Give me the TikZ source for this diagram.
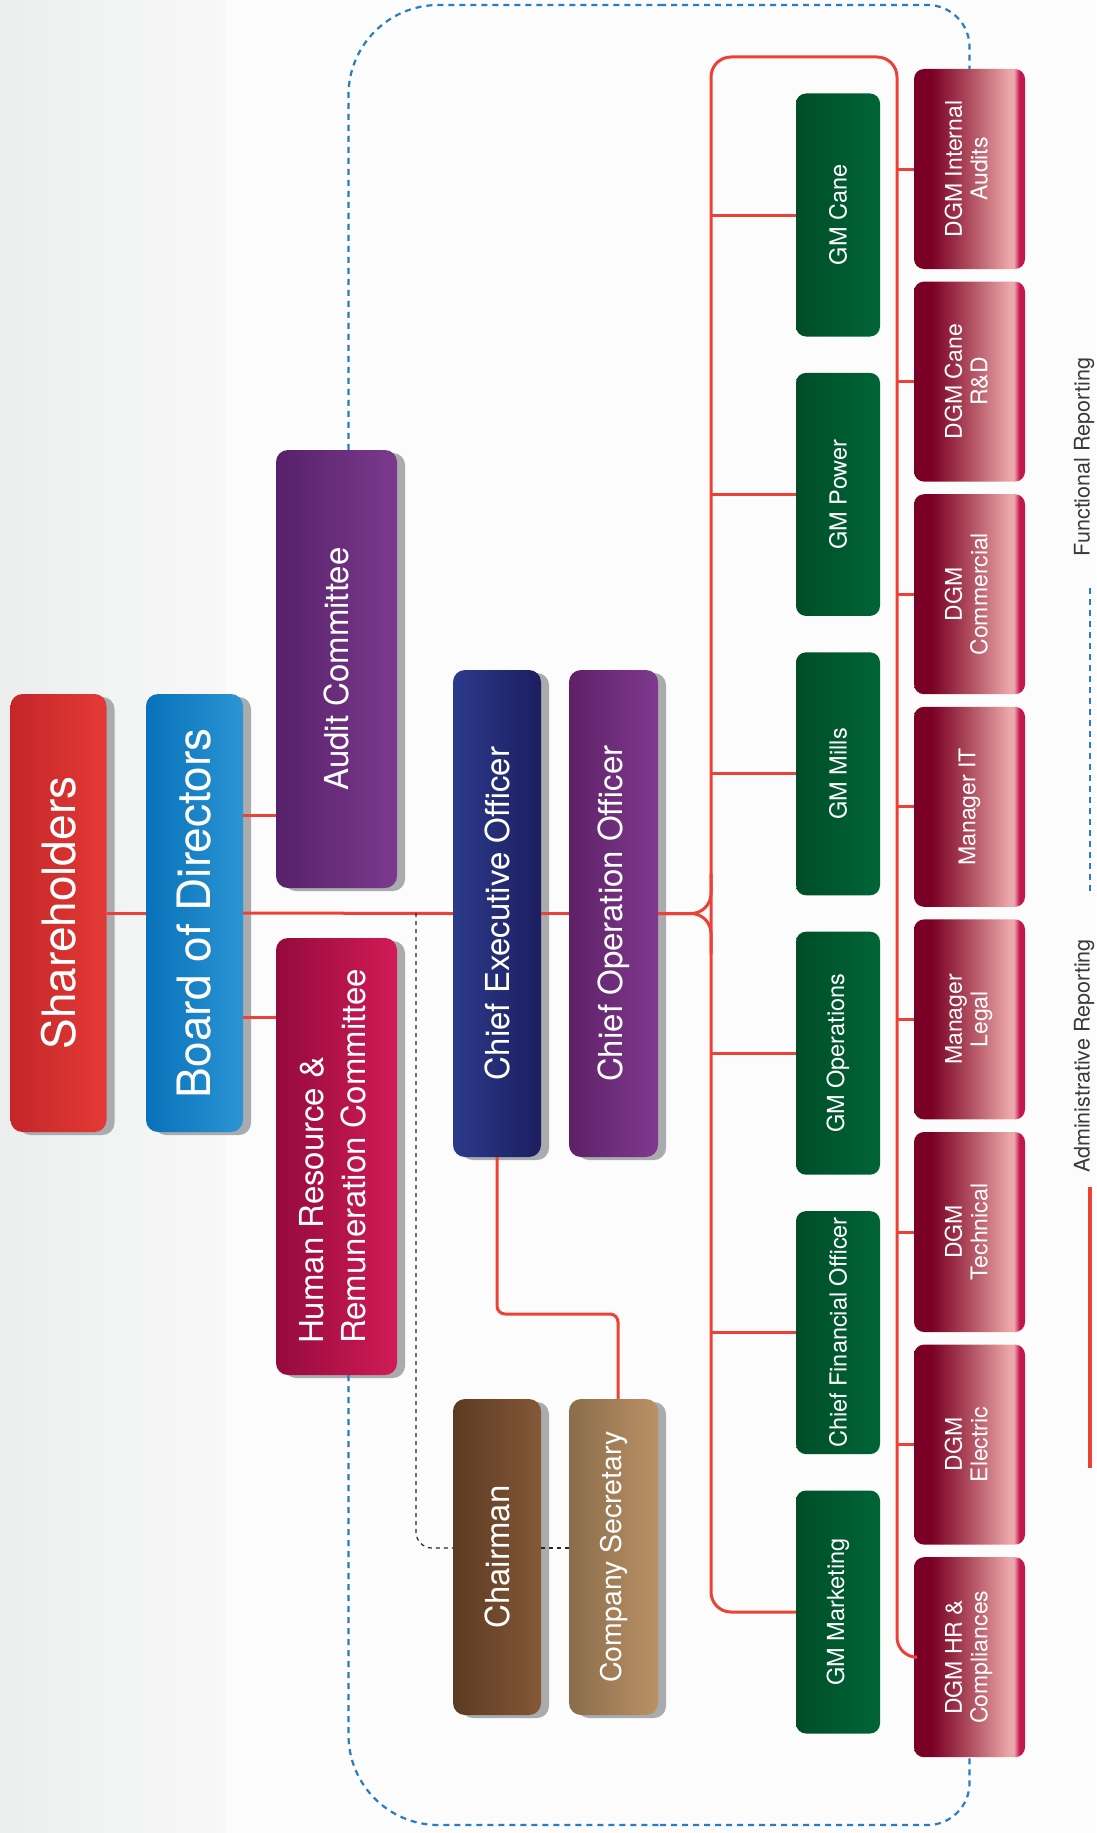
\documentclass[tikz,border=0pt]{standalone}
\usepackage{fontspec}
\setmainfont{TeX Gyre Heros}
\usepackage{graphicx}
\usepackage{xcolor}
\usetikzlibrary{shadows}

\definecolor{pagebg}{HTML}{FCFCFC}
\definecolor{stripA}{HTML}{ECEEEE}
\definecolor{stripB}{HTML}{F8F8F8}
\definecolor{boxshadow}{HTML}{A9ABAE}
\definecolor{shA}{HTML}{C4262A}
\definecolor{shB}{HTML}{E43A35}
\definecolor{bodA}{HTML}{0871B9}
\definecolor{bodB}{HTML}{2B95D5}
\definecolor{audA}{HTML}{56206A}
\definecolor{audB}{HTML}{7C3A8E}
\definecolor{hrA}{HTML}{950A3C}
\definecolor{hrB}{HTML}{D11B56}
\definecolor{ceoA}{HTML}{2C3A8B}
\definecolor{ceoB}{HTML}{1C1E60}
\definecolor{cooA}{HTML}{5E2066}
\definecolor{cooB}{HTML}{7F3A8F}
\definecolor{chA}{HTML}{5B3A22}
\definecolor{chB}{HTML}{855838}
\definecolor{secA}{HTML}{8A6C4C}
\definecolor{secB}{HTML}{BA9165}
\definecolor{gmdark}{HTML}{004D27}
\definecolor{gmlight}{HTML}{006536}
\definecolor{dgmdark}{HTML}{7B0025}
\definecolor{dgmmid}{HTML}{AF4D5E}
\definecolor{dgmpink}{HTML}{ECA7AA}
\definecolor{dgmedge}{HTML}{C3164E}
\definecolor{adminred}{HTML}{EE4136}
\definecolor{funcblue}{HTML}{2A7CC1}
\definecolor{legendgray}{HTML}{3A3A3C}

\pgfdeclarehorizontalshading{dgmshade}{100bp}{color(0bp)=(dgmdark); color(25bp)=(dgmdark);
  color(33bp)=(dgmdark); color(50bp)=(dgmmid); color(68bp)=(dgmpink); color(70bp)=(dgmpink);
  color(72.5bp)=(dgmedge); color(75bp)=(dgmedge); color(100bp)=(dgmedge)}

\newcommand{\vtwo}[2]{\rotatebox{90}{\begin{tabular}{@{}c@{}}#1\\#2\end{tabular}}}

\begin{document}
\begin{tikzpicture}[x=1pt,y=-1pt]
    \tikzstyle{box}=[rectangle,rounded corners=12pt,inner sep=0pt,text=white,
        drop shadow={shadow xshift=8pt,shadow yshift=-3pt,fill=boxshadow,opacity=1}]
    \tikzstyle{topbox}=[box,minimum width=96pt,minimum height=438pt,font=\fontsize{46}{50}\selectfont]
    \tikzstyle{midbox}=[box,font=\fontsize{33}{42}\selectfont]
    \tikzstyle{gm}=[rectangle,rounded corners=10pt,inner sep=0pt,text=white,left color=gmdark,right color=gmlight,
        minimum width=84pt,minimum height=243pt,font=\fontsize{23.5}{26}\selectfont]
    \tikzstyle{dgm}=[rectangle,rounded corners=10pt,inner sep=0pt,text=white,shade,shading=dgmshade,
        minimum width=111pt,minimum height=200pt,font=\fontsize{23}{25.5}\selectfont]
    \tikzstyle{admin}=[draw=adminred,line width=3pt]
    \tikzstyle{func}=[draw=funcblue,line width=2.2pt,dash pattern=on 6pt off 5pt]
    \tikzstyle{chairlink}=[draw=black!85,line width=1.2pt,dash pattern=on 4pt off 4pt]
    \tikzstyle{legend}=[inner sep=0pt,text=legendgray,font=\fontsize{21.5}{24}\selectfont]

    % page
    \fill[pagebg] (0,0) rectangle (1096,1833);
    \shade[left color=stripA,right color=stripB] (0,0) rectangle (226,1833);
    \useasboundingbox (0,0) rectangle (1096,1833);

    % board level
    \node (sh) [topbox,left color=shA,right color=shB] at (58.5,913) {\rotatebox{90}{Shareholders}};
    \node (bod) [topbox,left color=bodA,right color=bodB,minimum width=97pt] at (194.5,913) {\rotatebox{90}{Board of Directors}};
    \node (audit) [midbox,left color=audA,right color=audB,minimum width=121pt,minimum height=438pt] at (336.5,669) {\rotatebox{90}{Audit Committee}};
    \node (hrc) [midbox,left color=hrA,right color=hrB,minimum width=121pt,minimum height=437pt] at (336.5,1156.5)
        {\rotatebox{90}{\begin{tabular}{@{}l@{}}Human Resource \&\\Remuneration Committee\end{tabular}}};

    % executives
    \node (ceo) [midbox,left color=ceoA,right color=ceoB,minimum width=88pt,minimum height=487pt] at (497,913.5) {\rotatebox{90}{Chief Executive Officer}};
    \node (coo) [midbox,left color=cooA,right color=cooB,minimum width=89pt,minimum height=487pt] at (613.5,913.5) {\rotatebox{90}{Chief Operation Officer}};
    \node (chair) [midbox,left color=chA,right color=chB,minimum width=88pt,minimum height=316pt] at (497,1557) {\rotatebox{90}{Chairman}};
    \node (sec) [midbox,left color=secA,right color=secB,minimum width=89pt,minimum height=316pt,font=\fontsize{28.5}{32}\selectfont] at (613.5,1557) {\rotatebox{90}{Company Secretary}};

    % general managers
    \node (gmcane) [gm] at (838,215) {\rotatebox{90}{GM Cane}};
    \node (gmpower) [gm] at (838,494.4) {\rotatebox{90}{GM Power}};
    \node (gmmills) [gm] at (838,773.8) {\rotatebox{90}{GM Mills}};
    \node (gmops) [gm] at (838,1053.2) {\rotatebox{90}{GM Operations}};
    \node (cfo) [gm] at (838,1332.6) {\rotatebox{90}{Chief Financial Officer}};
    \node (gmmkt) [gm] at (838,1612) {\rotatebox{90}{GM Marketing}};

    % deputies and managers
    \node (dgmaudit) [dgm] at (969.5,169) {\vtwo{DGM Internal}{Audits}};
    \node (dgmcane) [dgm] at (969.5,381.6) {\vtwo{DGM Cane}{R\&D}};
    \node (dgmcom) [dgm] at (969.5,594.2) {\vtwo{DGM}{Commercial}};
    \node (mgrit) [dgm] at (969.5,806.8) {\rotatebox{90}{Manager IT}};
    \node (mgrlegal) [dgm] at (969.5,1019.4) {\vtwo{Manager}{Legal}};
    \node (dgmtech) [dgm] at (969.5,1232) {\vtwo{DGM}{Technical}};
    \node (dgmelec) [dgm] at (969.5,1444.6) {\vtwo{DGM}{Electric}};
    \node (dgmhr) [dgm] at (969.5,1657.2) {\vtwo{DGM HR \&}{Compliances}};

    % administrative reporting
    \draw[admin] (sh.east) -- (bod.west);
    \draw[admin] (bod.east) -- (ceo.west);
    \draw[admin] ([yshift=98pt]bod.east) -- ([yshift=98pt]bod.east -| audit.west);
    \draw[admin] ([yshift=-104pt]bod.east) -- ([yshift=-104pt]bod.east -| hrc.west);
    \draw[admin] (ceo.east) -- (coo.west);

    \coordinate (secbend) at (618,1314);
    \draw[admin,rounded corners=8pt] (ceo.south) |- (secbend) -- (secbend |- sec.north);

    \coordinate (spl) at (711,57);
    \coordinate (spr) at (897,57);
    \draw[admin,rounded corners=20pt] (coo.east) -| ([yshift=40pt]coo.east -| spl);
    \draw[admin,rounded corners=20pt] (coo.east) -| ([yshift=-40pt]coo.east -| spl);
    \draw[admin,rounded corners=20pt] (gmmkt.west) -| (spl) -- (spr) |- (dgmhr.west);

    \draw[admin] (gmcane.west) -- (gmcane.west -| spl);
    \draw[admin] (gmpower.west) -- (gmpower.west -| spl);
    \draw[admin] (gmmills.west) -- (gmmills.west -| spl);
    \draw[admin] (gmops.west) -- (gmops.west -| spl);
    \draw[admin] (cfo.west) -- (cfo.west -| spl);

    \draw[admin] (dgmaudit.west) -- (dgmaudit.west -| spr);
    \draw[admin] (dgmcane.west) -- (dgmcane.west -| spr);
    \draw[admin] (dgmcom.west) -- (dgmcom.west -| spr);
    \draw[admin] (mgrit.west) -- (mgrit.west -| spr);
    \draw[admin] (mgrlegal.west) -- (mgrlegal.west -| spr);
    \draw[admin] (dgmtech.west) -- (dgmtech.west -| spr);
    \draw[admin] (dgmelec.west) -- (dgmelec.west -| spr);

    % chairman link
    \coordinate (chtap) at (416,913);
    \draw[chairlink,rounded corners=16pt] (chtap) |- ([yshift=9pt]chair.west);
    \draw[chairlink] ([yshift=9pt]chair.east) -- ([yshift=9pt]chair.east -| sec.west);

    % functional reporting
    \coordinate (fntop) at (660,5);
    \coordinate (fnbot) at (660,1825);
    \draw[func,rounded corners=90pt] ([xshift=12pt]audit.north) |- (fntop);
    \draw[func,rounded corners=42pt] (fntop) -| (dgmaudit.north);
    \draw[func,rounded corners=90pt] ([xshift=12pt]hrc.south) |- (fnbot);
    \draw[func,rounded corners=42pt] (fnbot) -| (dgmhr.south);

    % legend
    \node (functext) [legend] at (1084,457) {\rotatebox{90}{Functional Reporting}};
    \node (admtext) [legend] at (1084,1056) {\rotatebox{90}{Administrative Reporting}};
    \draw[func] ([xshift=6pt,yshift=-32pt]functext.south) -- ++(0,307);
    \draw[admin,line width=3.5pt] ([xshift=6pt,yshift=-14pt]admtext.south) -- ++(0,281);
\end{tikzpicture}
\end{document}
